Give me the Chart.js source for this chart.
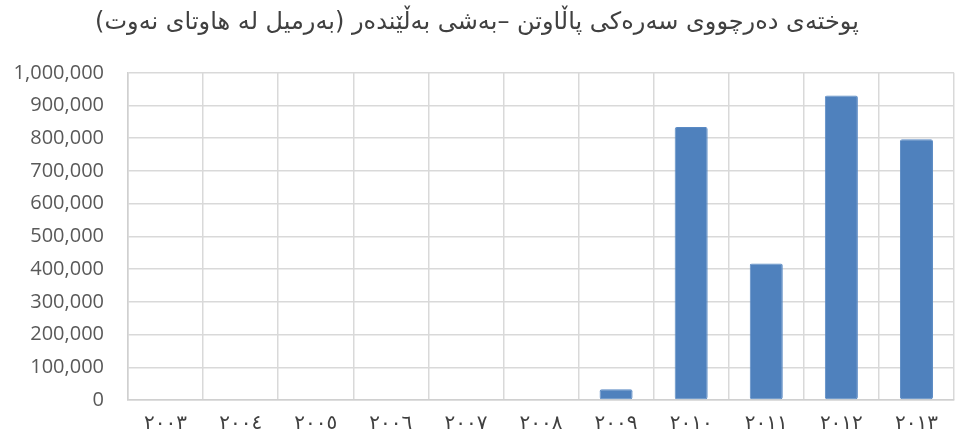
<!DOCTYPE html>
<html>
<head>
<meta charset="utf-8">
<script src="https://cdn.jsdelivr.net/npm/chart.js@4/dist/chart.umd.min.js"></script>
<style>
html,body{margin:0;padding:0;background:#fff;}
#wrap{width:963px;height:438px;}
</style>
</head>
<body>
<div id="wrap"><canvas id="c" width="963" height="438"></canvas></div>
<script>
const titleText = "پوختەی دەرچووی سەرەکی پاڵاوتن –بەشی بەڵێندەر (بەرمیل لە هاوتای نەوت)";
const categories = ["٢٠٠٣","٢٠٠٤","٢٠٠٥","٢٠٠٦","٢٠٠٧","٢٠٠٨","٢٠٠٩","٢٠١٠","٢٠١١","٢٠١٢","٢٠١٣"];
const values = [0,0,0,0,0,0,33000,834000,417000,931000,797000];
const yMin = 0, yMax = 1000000, yStep = 100000;

new Chart(document.getElementById('c'), {
  type: 'bar',
  data: {
    labels: categories,
    datasets: [{
      data: values,
      backgroundColor: '#4f81bd',
      borderColor: '#5a8ac4',
      borderWidth: 1,
      borderRadius: 2,
      borderSkipped: false,
      categoryPercentage: 1,
      barPercentage: 0.44
    }]
  },
  options: {
    responsive: false,
    animation: false,
    layout: {padding: {left: 0, right: 9, top: 0, bottom: 0}},
    plugins: {
      legend: {display: false},
      tooltip: {enabled: false},
      title: {
        display: true,
        text: titleText,
        color: '#404040',
        font: {family: 'DejaVu Sans', size: 24, weight: 'normal'},
        padding: {top: 8, bottom: 36}
      }
    },
    scales: {
      x: {
        grid: {color: '#d9d9d9', lineWidth: 1.5, offset: true, drawTicks: false},
        border: {color: '#d0d0d0', width: 1.5},
        ticks: {color: '#404040', font: {family: 'DejaVu Sans', size: 20}, padding: 12, maxRotation: 0},
        afterFit: (s) => { s.height = 38; }
      },
      y: {
        min: yMin, max: yMax,
        grid: {color: '#d9d9d9', lineWidth: 1.5, drawTicks: false},
        border: {color: '#d0d0d0', width: 1.5},
        ticks: {
          stepSize: yStep,
          color: '#595959',
          font: {family: 'Open Sans', size: 20},
          padding: 24,
          callback: (v) => v.toLocaleString('en-US')
        },
        afterFit: (s) => { s.width = 128; }
      }
    }
  }
});
</script>
</body>
</html>
